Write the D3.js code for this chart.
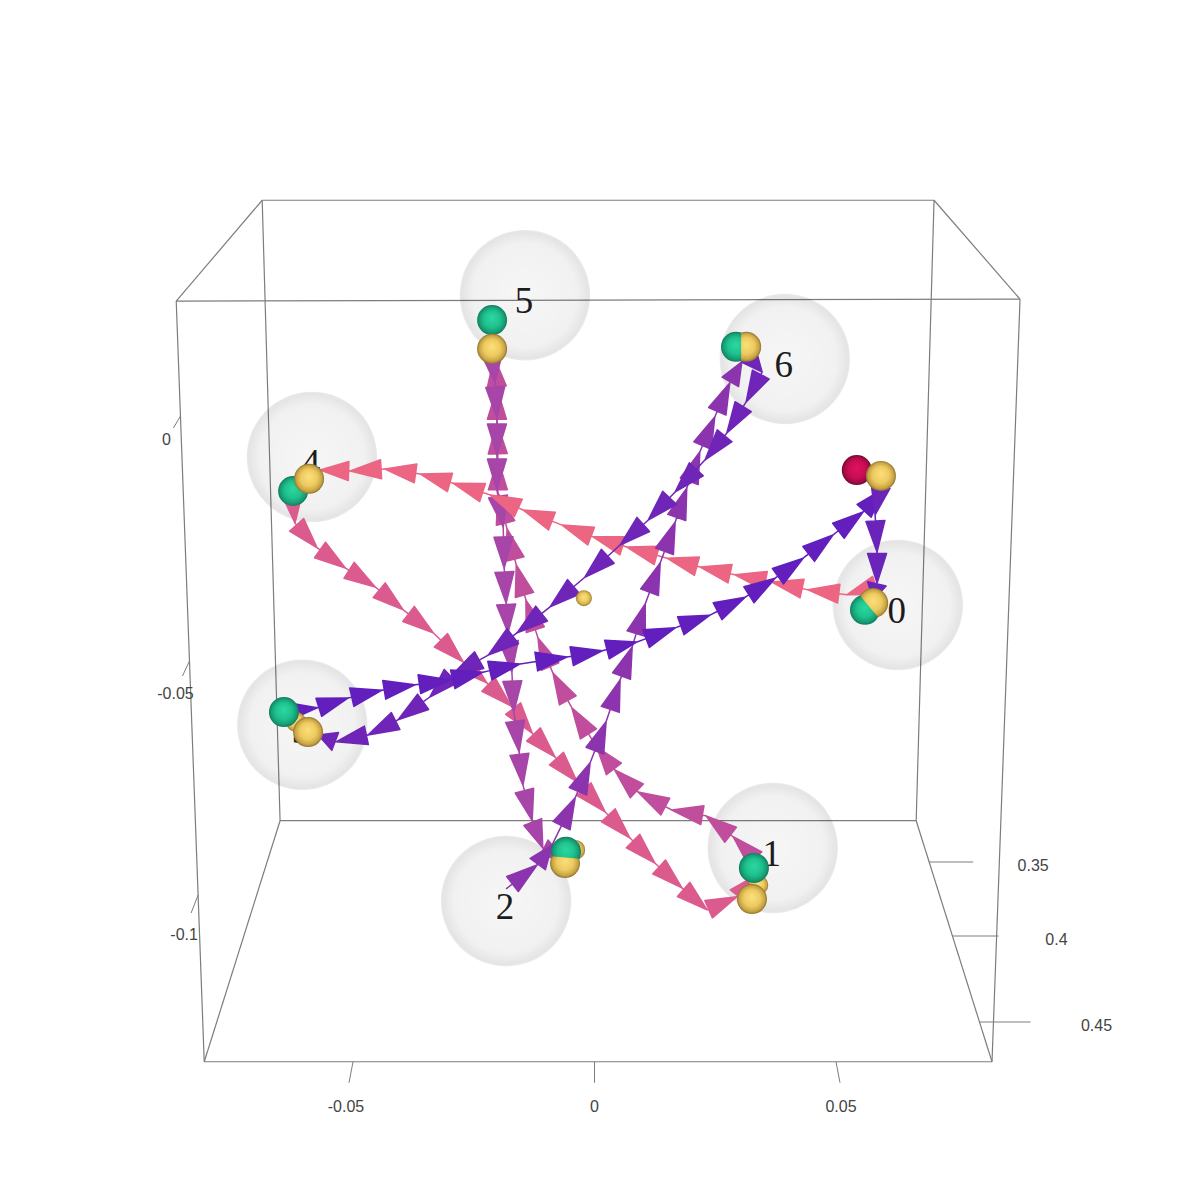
<!DOCTYPE html>
<html>
<head>
<meta charset="utf-8">
<title>Reach trajectories</title>
<script src="https://cdn.jsdelivr.net/npm/d3@7"></script>
<style>
html, body { margin: 0; padding: 0; background: #fff; }
svg { display: block; }
.tick-label { font-family: "Liberation Sans", Arial, sans-serif; font-size: 16px; fill: #444; text-anchor: middle; dominant-baseline: central; }
.target-label { font-family: "Liberation Serif", serif; font-size: 37px; fill: #1c1c1c; text-anchor: middle; }
</style>
</head>
<body>
<div id="chart"></div>
<script>
// axis values
let xTicks = [-0.05, 0, 0.05];
let yTicks = [0, -0.05, -0.1];
let zTicks = [0.35, 0.4, 0.45];

let boxFront = [[-0.0866, 0.0236], [0.0881, 0.0240], [0.0823, -0.1326], [-0.0808, -0.1326]];
let boxBack = [[-0.0688, 0.0443], [0.0703, 0.0443], [0.0666, -0.0831], [-0.0651, -0.0831]];

// targets
let targetLabels = ["0", "1", "2", "3", "4", "5", "6"];
let targetX = [0.0628, 0.0369, -0.0183, -0.0605, -0.0585, -0.0144, 0.0394];
let targetY = [-0.0388, -0.0887, -0.0996, -0.0634, -0.0084, 0.0248, 0.0117];
let targetRadius = 0.0135;

// markers at each target, same order as the labels
let greenX = [0.0560, 0.0330, -0.0059, -0.0643, -0.0624, -0.0212, 0.0293];
let greenY = [-0.0398, -0.0928, -0.0895, -0.0608, -0.0154, 0.0197, 0.0142];
let yellowX = [0.0577, 0.0326, -0.0061, -0.0593, -0.0591, -0.0212, 0.0314];
let yellowY = [-0.0384, -0.0992, -0.0918, -0.0649, -0.0129, 0.0138, 0.0142];
// these pairs cut through each other
let cutting = [0, 2, 6];

let startYellow = [0.0593, -0.0123];
let startRed = [0.0543, -0.0111];
let centerDot = [-0.0022, -0.0374];
let behindDots = [[0.0339, -0.0963], [-0.0040, -0.0891], [-0.0618, -0.0628]];

// the legs of the movement
let legStartTo0 = [[0.0593, -0.0142], [0.0581, -0.0203], [0.0585, -0.0279], [0.0585, -0.0343], [0.0577, -0.0378]];
let leg0To4 = [[0.0585, -0.0347], [0.0523, -0.0367], [0.0442, -0.0357], [0.0367, -0.0341], [0.0291, -0.0326], [0.0218, -0.0310], [0.0150, -0.0292], [0.0067, -0.0269], [-0.0003, -0.0248], [-0.0067, -0.0224], [-0.0148, -0.0193], [-0.0216, -0.0162], [-0.0293, -0.0138], [-0.0361, -0.0119], [-0.0434, -0.0109], [-0.0506, -0.0113], [-0.0568, -0.0111]];
let leg4To1 = [[-0.0626, -0.0162], [-0.0620, -0.0220], [-0.0574, -0.0271], [-0.0516, -0.0312], [-0.0454, -0.0351], [-0.0396, -0.0398], [-0.0334, -0.0445], [-0.0272, -0.0505], [-0.0223, -0.0548], [-0.0173, -0.0595], [-0.0129, -0.0651], [-0.0082, -0.0700], [-0.0036, -0.0751], [0.0022, -0.0813], [0.0073, -0.0866], [0.0125, -0.0918], [0.0181, -0.0969], [0.0233, -0.1014], [0.0295, -0.0987], [0.0326, -0.0948]];
let leg1To5 = [[0.0336, -0.0912], [0.0287, -0.0864], [0.0231, -0.0821], [0.0160, -0.0809], [0.0090, -0.0772], [0.0042, -0.0727], [0.0005, -0.0680], [-0.0047, -0.0599], [-0.0086, -0.0528], [-0.0117, -0.0456], [-0.0142, -0.0378], [-0.0162, -0.0306], [-0.0181, -0.0232], [-0.0200, -0.0158], [-0.0200, -0.0088], [-0.0202, -0.0014], [-0.0202, 0.0057], [-0.0208, 0.0121]];
let leg5To2 = [[-0.0212, 0.0125], [-0.0206, 0.0068], [-0.0202, -0.0004], [-0.0202, -0.0080], [-0.0202, -0.0152], [-0.0189, -0.0228], [-0.0187, -0.0312], [-0.0183, -0.0384], [-0.0179, -0.0445], [-0.0171, -0.0526], [-0.0167, -0.0608], [-0.0156, -0.0690], [-0.0148, -0.0758], [-0.0129, -0.0831], [-0.0107, -0.0887], [-0.0067, -0.0907]];
let leg2To6 = [[-0.0183, -0.0971], [-0.0119, -0.0922], [-0.0088, -0.0881], [-0.0040, -0.0784], [-0.0009, -0.0712], [0.0024, -0.0628], [0.0053, -0.0542], [0.0078, -0.0474], [0.0105, -0.0386], [0.0136, -0.0302], [0.0167, -0.0218], [0.0191, -0.0148], [0.0218, -0.0074], [0.0249, -0.0002], [0.0280, 0.0068], [0.0305, 0.0111]];
let leg6To3 = [[0.0318, 0.0125], [0.0347, 0.0090], [0.0314, 0.0029], [0.0274, -0.0035], [0.0229, -0.0090], [0.0167, -0.0156], [0.0111, -0.0214], [0.0053, -0.0265], [-0.0020, -0.0331], [-0.0092, -0.0392], [-0.0160, -0.0445], [-0.0220, -0.0491], [-0.0295, -0.0532], [-0.0341, -0.0577], [-0.0407, -0.0624], [-0.0469, -0.0655], [-0.0535, -0.0669], [-0.0572, -0.0655]];
let leg3ToStart = [[-0.0643, -0.0608], [-0.0574, -0.0599], [-0.0510, -0.0579], [-0.0440, -0.0563], [-0.0372, -0.0552], [-0.0299, -0.0542], [-0.0231, -0.0526], [-0.0154, -0.0509], [-0.0057, -0.0495], [0.0016, -0.0482], [0.0088, -0.0464], [0.0167, -0.0435], [0.0239, -0.0409], [0.0312, -0.0372], [0.0374, -0.0333], [0.0432, -0.0292], [0.0494, -0.0244], [0.0556, -0.0197], [0.0601, -0.0148]];

let width = 1196;
let height = 1196;

let xscale = d3.scaleLinear().domain([-0.05, 0.05]).range([353, 836]);
let yscale = d3.scaleLinear().domain([0, -0.1]).range([416, 903]);

// the z axis runs along the floor, and perspective squeezes all the ticks
let yTickPos = d3.scaleLinear().domain(yTicks).range([416, 661, 895]);
let yLabelPos = d3.scaleLinear().domain(yTicks).range([439, 693, 934]);
let zTickY = d3.scaleLinear().domain(zTicks).range([862, 936, 1022]);
let zTickLen = d3.scaleLinear().domain(zTicks).range([44, 46, 51]);
let zLabelGap = d3.scaleLinear().domain(zTicks).range([60, 58, 66]);

let chart = d3.select("#chart")
    .append("svg")
    .attr("width", width)
    .attr("height", height);

let defs = chart.append("defs");

function ballGradient(id, stops) {
    let g = defs.append("radialGradient")
        .attr("id", id)
        .attr("cx", "50%").attr("cy", "50%").attr("r", "50%")
        .attr("fx", "50%").attr("fy", "42%");
    stops.forEach(function (s) {
        g.append("stop").attr("offset", s[0]).attr("stop-color", s[1]);
    });
}
ballGradient("yellow", [[0, "#fbe07a"], [0.55, "#eeca60"], [0.85, "#c9a545"], [1, "#8d7430"]]);
ballGradient("green", [[0, "#2bd8a0"], [0.55, "#1fc28e"], [0.85, "#169c74"], [1, "#137a5c"]]);
ballGradient("red", [[0, "#e0125f"], [0.55, "#cb0d54"], [0.85, "#a30a46"], [1, "#6e0733"]]);

let glass = defs.append("radialGradient").attr("id", "glass");
glass.append("stop").attr("offset", 0).attr("stop-color", "#000").attr("stop-opacity", 0.035);
glass.append("stop").attr("offset", 0.8).attr("stop-color", "#000").attr("stop-opacity", 0.055);
glass.append("stop").attr("offset", 0.97).attr("stop-color", "#000").attr("stop-opacity", 0.105);
glass.append("stop").attr("offset", 1).attr("stop-color", "#000").attr("stop-opacity", 0.08);

// box
let lineColor = "#7d7d7d";
let boxEdges = [];
for (let i = 0; i < 4; i++) {
    boxEdges.push([boxFront[i], boxFront[(i + 1) % 4]]);
    boxEdges.push([boxBack[i], boxBack[(i + 1) % 4]]);
    boxEdges.push([boxFront[i], boxBack[i]]);
}
chart.append("g").selectAll("line")
    .data(boxEdges)
    .enter()
    .append("line")
    .attr("x1", function (d) { return xscale(d[0][0]); })
    .attr("y1", function (d) { return yscale(d[0][1]); })
    .attr("x2", function (d) { return xscale(d[1][0]); })
    .attr("y2", function (d) { return yscale(d[1][1]); })
    .attr("stroke", lineColor)
    .attr("stroke-width", 1.2);

// x axis, ticks fan out a little
let floorY = yscale(boxFront[3][1]);
let xAxisG = chart.append("g");
xAxisG.selectAll("line")
    .data(xTicks)
    .enter()
    .append("line")
    .attr("x1", function (d) { return xscale(d); })
    .attr("y1", floorY)
    .attr("x2", function (d) { return xscale(d) + d * 80; })
    .attr("y2", floorY + 21)
    .attr("stroke", lineColor);
xAxisG.selectAll("text")
    .data(xTicks)
    .enter()
    .append("text")
    .attr("class", "tick-label")
    .attr("x", function (d) { return xscale(d) + d * 80 - (d < 0 ? 3 : d > 0 ? -1 : 0); })
    .attr("y", floorY + 45)
    .text(function (d) { return d; });

// y axis along the front left edge
let frontLeftX = d3.scaleLinear().domain([yscale(boxFront[0][1]), floorY]).range([xscale(boxFront[0][0]), xscale(boxFront[3][0])]);
let yAxisG = chart.append("g");
yAxisG.selectAll("line")
    .data(yTicks)
    .enter()
    .append("line")
    .attr("x1", function (d) { return frontLeftX(yTickPos(d)); })
    .attr("y1", function (d) { return yTickPos(d); })
    .attr("x2", function (d) { return frontLeftX(yTickPos(d)) - 7; })
    .attr("y2", function (d) { return yTickPos(d) + 12 - d * 60; })
    .attr("stroke", lineColor);
yAxisG.selectAll("text")
    .data(yTicks)
    .enter()
    .append("text")
    .attr("class", "tick-label")
    .attr("x", function (d) { return frontLeftX(yTickPos(d)) - 14; })
    .attr("y", function (d) { return yLabelPos(d); })
    .text(function (d) { return d; });

// z axis along the right floor edge
let floorRightX = d3.scaleLinear().domain([yscale(boxBack[2][1]), floorY]).range([xscale(boxBack[2][0]), xscale(boxFront[2][0])]);
let zAxisG = chart.append("g");
zAxisG.selectAll("line")
    .data(zTicks)
    .enter()
    .append("line")
    .attr("x1", function (d) { return floorRightX(zTickY(d)); })
    .attr("y1", function (d) { return zTickY(d); })
    .attr("x2", function (d) { return floorRightX(zTickY(d)) + zTickLen(d); })
    .attr("y2", function (d) { return zTickY(d); })
    .attr("stroke", lineColor);
zAxisG.selectAll("text")
    .data(zTicks)
    .enter()
    .append("text")
    .attr("class", "tick-label")
    .attr("x", function (d) { return floorRightX(zTickY(d)) + zTickLen(d) + zLabelGap(d); })
    .attr("y", function (d) { return zTickY(d) + 3; })
    .text(function (d) { return d; });

// glass spheres and their numbers
let rpx = xscale(targetRadius) - xscale(0);
chart.append("g").selectAll("circle")
    .data(targetLabels)
    .enter()
    .append("circle")
    .attr("cx", function (d, i) { return xscale(targetX[i]); })
    .attr("cy", function (d, i) { return yscale(targetY[i]); })
    .attr("r", rpx)
    .attr("fill", "url(#glass)");

chart.append("g").selectAll("text")
    .data(targetLabels)
    .enter()
    .append("text")
    .attr("class", "target-label")
    .attr("x", function (d, i) { return xscale(targetX[i]) - 1; })
    .attr("y", function (d, i) { return yscale(targetY[i]) + 18; })
    .text(function (d) { return d; });

// arrows, one leg at a time
function arrowHead(a, b) {
    let x0 = xscale(a[0]), y0 = yscale(a[1]), x1 = xscale(b[0]), y1 = yscale(b[1]);
    let dx = x1 - x0, dy = y1 - y0;
    let len = Math.sqrt(dx * dx + dy * dy);
    let head = Math.min(31, len * 0.95);
    let ux = dx / len, uy = dy / len;
    let bx = x1 - ux * head, by = y1 - uy * head;
    let half = 9.5;
    return "M" + x0 + "," + y0 + "L" + bx + "," + by +
        "M" + (bx - uy * half) + "," + (by + ux * half) +
        "L" + x1 + "," + y1 +
        "L" + (bx + uy * half) + "," + (by - ux * half) + "Z";
}

let legs = [
    { points: leg4To1, color: "#dc5b8e" },
    { points: leg1To5, color: "#c04e9c" },
    { points: leg5To2, color: "#a745a8" },
    { points: leg0To4, color: "#ec6583" },
    { points: leg2To6, color: "#8c34ae" },
    { points: leg6To3, color: "#6f25b8" },
    { points: leg3ToStart, color: "#621fbd" },
    { points: legStartTo0, color: "#6a24ba" }
];

legs.forEach(function (leg) {
    chart.append("g")
        .selectAll("path")
        .data(d3.pairs(leg.points))
        .enter()
        .append("path")
        .attr("d", function (d) { return arrowHead(d[0], d[1]); })
        .attr("fill", leg.color)
        .attr("stroke", leg.color)
        .attr("stroke-width", 1.5)
        .attr("stroke-linejoin", "round");
});

// balls
let ballR = 15;
function ball(g, p, r, color) {
    return g.append("circle")
        .attr("cx", xscale(p[0]))
        .attr("cy", yscale(p[1]))
        .attr("r", r)
        .attr("fill", "url(#" + color + ")");
}

let balls = chart.append("g");
behindDots.forEach(function (p) { ball(balls, p, 10, "yellow"); });
ball(balls, startRed, ballR, "red");
ball(balls, startYellow, ballR, "yellow");
ball(balls, centerDot, 8, "yellow");

targetLabels.forEach(function (d, i) {
    let g = [greenX[i], greenY[i]];
    let y = [yellowX[i], yellowY[i]];
    ball(balls, g, ballR, "green");
    let yellowBall = ball(balls, y, ballR, "yellow");
    if (cutting.indexOf(i) !== -1) {
        // flat seam between the two balls
        let mx = (xscale(g[0]) + xscale(y[0])) / 2;
        let my = (yscale(g[1]) + yscale(y[1])) / 2;
        let angle = Math.atan2(yscale(y[1]) - yscale(g[1]), xscale(y[0]) - xscale(g[0])) * 180 / Math.PI;
        defs.append("clipPath")
            .attr("id", "seam" + i)
            .append("rect")
            .attr("x", 0).attr("y", -40).attr("width", 80).attr("height", 80)
            .attr("transform", "translate(" + mx + "," + my + ") rotate(" + angle + ")");
        yellowBall.attr("clip-path", "url(#seam" + i + ")");
    }
});
</script>
</body>
</html>
